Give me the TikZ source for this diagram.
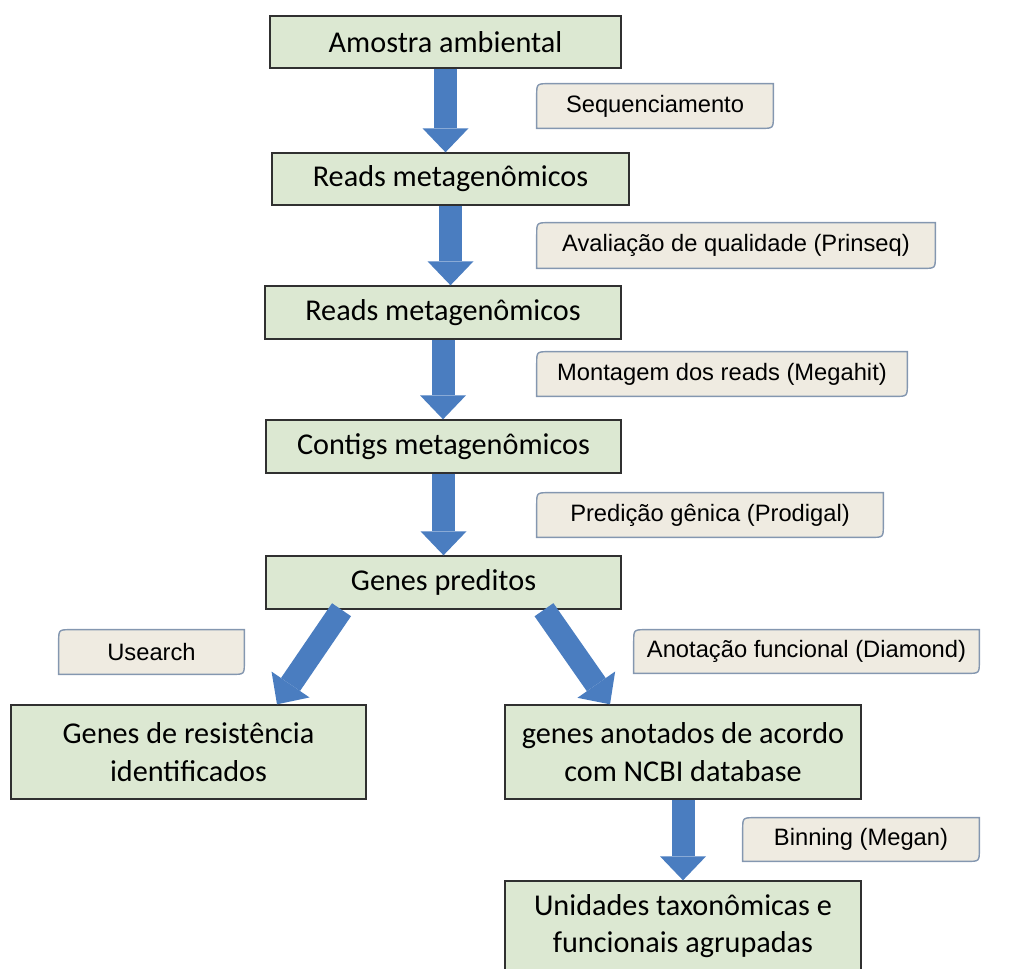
\documentclass[tikz,border=0pt]{standalone}
\usepackage{fontspec}
\setmainfont{Carlito}
\newfontfamily\rotulofonte{Liberation Sans}
\usetikzlibrary{arrows.meta, positioning, calc, backgrounds}
\definecolor{verdecaixa}{HTML}{DCE8D2}
\definecolor{bordacaixa}{HTML}{303030}
\definecolor{bege}{HTML}{EFEBE1}
\definecolor{bordabege}{HTML}{8497B0}
\definecolor{azulseta}{HTML}{4A7DC0}
\tikzset{
  etapa/.style={rectangle, draw=bordacaixa, fill=verdecaixa, line width=0.8pt, inner sep=0pt,
                text centered, align=center, font=\fontsize{17.2}{21.5}\selectfont},
  rotulo/.style={rectangle, inner sep=0pt, text centered, font=\rotulofonte\fontsize{13.5}{16}\selectfont},
  seta/.style={line width=0.46cm, color=azulseta,
               -{Triangle[length=0.48cm, width=0.92cm, line width=0pt]}}
}

\begin{document}
\begin{tikzpicture}[x=0.02cm, y=-0.02cm]
  \useasboundingbox (0,0) rectangle (1016,968);
  % etapas do fluxo
  \node (amostra) [etapa, minimum width=7.02cm, minimum height=1.04cm] at (445.5,42) {Amostra ambiental};
  \node (reads1) [etapa, minimum width=7.14cm, minimum height=1.04cm] at (450.5,179) {Reads metagenômicos};
  \node (reads2) [etapa, minimum width=7.12cm, minimum height=1.06cm] at (443,312.5) {Reads metagenômicos};
  \node (contigs) [etapa, minimum width=7.1cm, minimum height=1.06cm] at (443.5,446.5) {Contigs metagenômicos};
  \node (genes) [etapa, minimum width=7.1cm, minimum height=1.06cm] at (443.5,582.5) {Genes preditos};
  \node (resist) [etapa, minimum width=7.1cm, minimum height=1.88cm] at (188.5,752) {Genes de resistência\\identificados};
  \node (anotados) [etapa, minimum width=7.12cm, minimum height=1.88cm] at (683,752) {genes anotados de acordo\\com NCBI database};
  \node (unidades) [etapa, minimum width=7.12cm, minimum height=1.8cm] at (683,926) {Unidades taxonômicas e\\funcionais agrupadas};
  % ferramentas
  \node (seq) [rotulo, minimum width=4.72cm, minimum height=0.88cm] at (655,106) {Sequenciamento};
  \node (aval) [rotulo, minimum width=7.96cm, minimum height=0.9cm] at (736,245.5) {Avaliação de qualidade (Prinseq)};
  \node (mont) [rotulo, minimum width=7.4cm, minimum height=0.88cm] at (722,374) {Montagem dos reads (Megahit)};
  \node (pred) [rotulo, minimum width=6.92cm, minimum height=0.88cm] at (710,515) {Predição gênica (Prodigal)};
  \node (usearch) [rotulo, minimum width=3.7cm, minimum height=0.88cm] at (151.5,652) {Usearch};
  \node (anot) [rotulo, minimum width=6.9cm, minimum height=0.86cm] at (806.5,651.5) {Anotação funcional (Diamond)};
  \node (binning) [rotulo, minimum width=4.72cm, minimum height=0.86cm] at (861,839.5) {Binning (Megan)};
  \begin{scope}[on background layer]
    \foreach \r in {seq,aval,mont,pred,usearch,anot,binning}
      \filldraw [fill=bege, draw=bordabege, line width=0.8pt]
        (\r.south west) -- ($(\r.north west)+(0pt,-7pt)$) .. controls (\r.north west) .. ($(\r.north west)+(7pt,0pt)$)
        -- (\r.north east) -- ($(\r.south east)+(0pt,7pt)$) .. controls (\r.south east) .. ($(\r.south east)+(-7pt,0pt)$)
        -- cycle;
  \end{scope}
  % setas
  \draw [seta] (amostra.south) -- (amostra.south |- reads1.north);
  \draw [seta] (reads1.south) -- (reads1.south |- reads2.north);
  \draw [seta] (reads2.south) -- (reads2.south |- contigs.north);
  \draw [seta] (contigs.south) -- (contigs.south |- genes.north);
  \draw [seta] ([xshift=-2.04cm]genes.south) -- ([xshift=1.77cm]resist.north);
  \draw [seta] ([xshift=2.01cm]genes.south) -- ([xshift=-1.46cm]anotados.north);
  \draw [seta] (anotados.south) -- (anotados.south |- unidades.north);
\end{tikzpicture}
\end{document}
